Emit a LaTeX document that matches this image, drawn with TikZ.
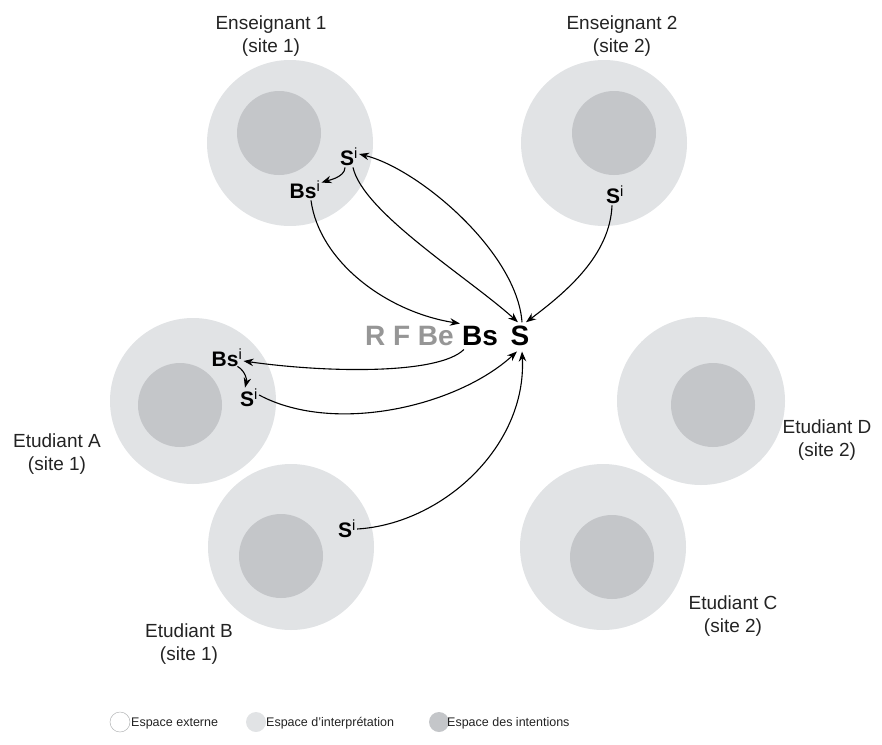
\documentclass[tikz,border=0pt]{standalone}
\usepackage{fontspec}
\setmainfont{Liberation Sans}
\usepackage{tikz}
\usetikzlibrary{arrows.meta,positioning}
\definecolor{extfill}{RGB}{225,227,229}
\definecolor{intfill}{RGB}{196,198,201}
\definecolor{symgray}{RGB}{150,150,150}
\definecolor{txtdark}{RGB}{35,35,35}
\newcommand{\Si}{S\textsuperscript{\mdseries i}}
\newcommand{\Bsi}{Bs\textsuperscript{\mdseries i}}

\begin{document}
\begin{tikzpicture}[x=1pt,y=-1pt,>={Stealth[length=10pt,width=7.5pt]},
  ext/.style={fill=extfill},
  int/.style={fill=intfill},
  who/.style={align=center,text=txtdark,font=\fontsize{19}{23}\selectfont},
  sym/.style={inner sep=1pt,font=\fontsize{21}{23}\selectfont\bfseries},
  big/.style={inner sep=0pt,anchor=base,font=\fontsize{28}{30}\selectfont\bfseries},
  flow/.style={->,line width=1.1pt},
  leg/.style={anchor=west,inner sep=0pt,text=txtdark,font=\fontsize{12.5}{14}\selectfont}]
\useasboundingbox (0,0) rectangle (882,744);
% ---- participants ----
\fill[ext] (290,143) circle (83pt);  \fill[int] (279,133) circle (42pt);
\fill[ext] (604,143) circle (83pt);  \fill[int] (614,133) circle (42pt);
\fill[ext] (193,401) circle (83pt);  \fill[int] (180,405) circle (42pt);
\fill[ext] (701,401) circle (84pt);  \fill[int] (713,405) circle (42pt);
\fill[ext] (291,547) circle (83pt);  \fill[int] (281,556) circle (42pt);
\fill[ext] (603,547) circle (83pt);  \fill[int] (612,557) circle (42pt);
\node[who] (e1lab) at (271,36)  {Enseignant 1\\(site 1)};
\node[who] (e2lab) at (622,36)  {Enseignant 2\\(site 2)};
\node[who] (alab)  at (57,454)  {Etudiant A\\(site 1)};
\node[who] (blab)  at (189,644) {Etudiant B\\(site 1)};
\node[who] (clab)  at (733,616) {Etudiant C\\(site 2)};
\node[who] (dlab)  at (827,440) {Etudiant D\\(site 2)};
% ---- shared space ----
\node[big] (bs) at (480,345) {Bs};
\node[big] (s)  at (520,345) {S};
\node[big,text=symgray,anchor=base east] (rfbe) at (454,345) {R F Be};
% ---- local symbols ----
\node[sym] (e1s)  at (349,157) {\Si};
\node[sym] (e1bs) at (305,190) {\Bsi};
\node[sym] (e2s)  at (615,195) {\Si};
\node[sym] (abs)  at (227,358) {\Bsi};
\node[sym] (as)   at (249,398) {\Si};
\node[sym] (bsi)  at (347,529) {\Si};
% ---- flows ----
\draw[flow] ([xshift=6pt]e1bs.south) .. controls +(8,60) and +(-75,-12) .. ([xshift=-2pt,yshift=2pt]bs.north west);
\draw[flow] ([xshift=4pt]e1s.south) .. controls +(10,45) and +(-50,-45) .. ([xshift=-2pt,yshift=3pt]s.north);
\draw[flow] ([xshift=2pt,yshift=3pt]s.north) .. controls +(-5,-70) and +(60,15) .. ([yshift=3pt]e1s.east);
\draw[flow] ([xshift=-4pt]e1s.south) .. controls +(0,10) and +(6,-2) .. ([yshift=-3pt]e1bs.north east);
\draw[flow] ([xshift=-3pt]e2s.south) .. controls +(-2,50) and +(40,-30) .. ([xshift=6pt,yshift=3pt]s.north);
\draw[flow] ([xshift=2pt,yshift=-4pt]bs.south west) .. controls +(-25,25) and +(85,12) .. ([yshift=-3pt]abs.east);
\draw[flow] ([yshift=3pt]as.east) .. controls +(75,40) and +(-60,55) .. ([xshift=-3pt,yshift=-6pt]s.south);
\draw[flow] ([yshift=0pt]bsi.east) .. controls +(85,-5) and +(5,95) .. ([xshift=2pt,yshift=-6pt]s.south);
\draw[flow] ([xshift=-6pt,yshift=2pt]abs.south east) .. controls +(8,5) and +(2,-8) .. ([xshift=-4pt]as.north);
% ---- legend ----
\draw[draw=extfill!80!black,fill=white,line width=0.5pt] (120,722) circle (10pt);
\fill[ext] (256,722) circle (10pt);
\fill[int] (439,722) circle (10pt);
\node[leg] (l1) at (131,723) {Espace externe};
\node[leg] (l2) at (266,723) {Espace d'interprétation};
\node[leg] (l3) at (447,723) {Espace des intentions};
\end{tikzpicture}
\end{document}
